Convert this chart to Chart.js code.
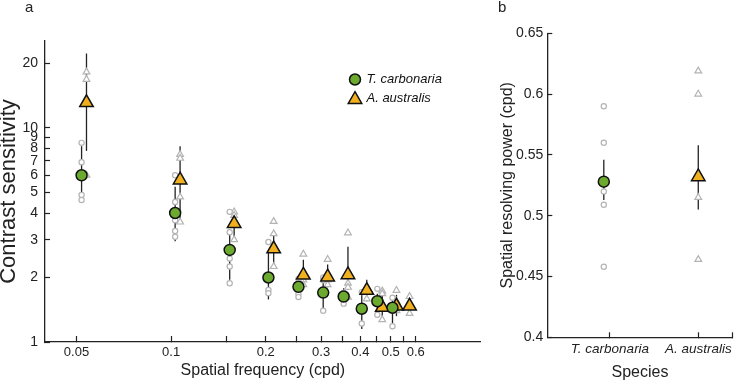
<!DOCTYPE html>
<html><head><meta charset="utf-8">
<script src="https://cdn.jsdelivr.net/npm/chart.js@4.4.0/dist/chart.umd.min.js"></script>
<style>
html,body{margin:0;padding:0;background:#fff;}
#wrap{position:relative;width:742px;height:382px;overflow:hidden;font-family:"Liberation Sans",Arial,sans-serif;}
#ca{position:absolute;left:0;top:0;width:490px;height:382px;}
#cb{position:absolute;left:490px;top:0;width:252px;height:382px;}
.plab{position:absolute;font-size:15px;line-height:1;color:#222;}
</style></head><body>
<div id="wrap">
<canvas id="ca" width="490" height="382"></canvas>
<canvas id="cb" width="252" height="382"></canvas>
<div class="plab" style="left:25px;top:-1px">a</div>
<div class="plab" style="left:498px;top:-1px">b</div>
</div>
<script>
// ---------- data ----------
const speciesNames = ['T. carbonaria', 'A. australis'];

// Panel a: contrast sensitivity vs spatial frequency (cpd)
const tcFreq = [0.0519, 0.1030, 0.1536, 0.2040, 0.2542, 0.3047, 0.3540, 0.4042, 0.4530, 0.5062];
const tcCS   = [6.0, 4.0, 2.69, 2.0, 1.81, 1.70, 1.63, 1.43, 1.55, 1.445];
const tcLo   = [5.0, 2.95, 1.95, 1.58, 1.65, 1.42, 1.50, 1.15, 1.45, 1.22];
const tcHi   = [8.2, 5.3, 3.3, 2.6, 1.97, 1.95, 1.78, 1.68, 1.68, 1.60];
const tcInd  = [[8.5, 6.9, 6.0, 4.85, 4.6], [6.0, 4.5, 3.7, 3.3, 3.1], [4.05, 3.25, 2.45, 2.25, 1.88],
                [2.93, 2.0, 1.75, 1.69], [1.97, 1.8, 1.68, 1.62], [2.0, 1.94, 1.7, 1.40],
                [1.7, 1.63, 1.51], [1.71, 1.43, 1.22], [1.77, 1.55, 1.34], [1.61, 1.45, 1.185]];

const aaFreq = [0.0538, 0.1068, 0.1587, 0.2120, 0.2635, 0.3148, 0.3653, 0.4193, 0.4697, 0.5212, 0.5737];
const aaCS   = [13.1, 5.7, 3.57, 2.72, 2.05, 2.01, 2.06, 1.74, 1.45, 1.47, 1.47];
const aaLo   = [7.8, 3.75, 3.05, 2.2, 1.85, 1.8, 1.75, 1.55, 1.3, 1.32, 1.35];
const aaHi   = [22.2, 8.2, 4.1, 3.22, 2.42, 2.3, 2.78, 1.95, 1.65, 1.66, 1.63];
const aaInd  = [[18.2, 16.8, 6.0], [7.5, 7.2, 4.75, 3.63], [4.05, 3.9, 3.0], [3.65, 3.2, 2.25],
                [2.57, 1.95, 1.85], [2.43, 1.95, 1.85], [3.23, 1.88, 1.8, 1.62], [1.8, 1.72, 1.59],
                [1.73, 1.68, 1.27], [1.74, 1.55, 1.40], [1.63, 1.5, 1.36]];

const xTicksA  = [0.05, 0.1, 0.15, 0.2, 0.25, 0.3, 0.35, 0.4, 0.45, 0.5, 0.55, 0.6];
const xLabelsA = ['0.05', '0.1', '', '0.2', '', '0.3', '', '0.4', '', '0.5', '', '0.6'];
const yTicksA  = [1, 2, 3, 4, 5, 6, 7, 8, 9, 10, 20];
const yLabelsA = ['1', '2', '3', '4', '5', '6', '7', '8', '9', '10', '20'];

// Panel b: spatial resolving power (cpd) per species
const resX    = [0.93, 2.0];
const resMean = [0.528, 0.532];
const resLo   = [0.513, 0.505];
const resHi   = [0.546, 0.558];
const resInd  = [[0.590, 0.560, 0.520, 0.509, 0.458], [0.619, 0.600, 0.515, 0.464]];
const xTicksB  = [1, 2, 2.39];
const xLabelsB = ['T. carbonaria', 'A. australis', ''];
const yTicksB  = [0.4, 0.45, 0.5, 0.55, 0.6, 0.65];
const yLabelsB = ['0.4', '0.45', '0.5', '0.55', '0.6', '0.65'];

// ---------- styles ----------
const FONT = '"Liberation Sans", Arial, sans-serif';
const INK = '#222';
const GREEN = '#6ca92f';
const ORANGE = '#f0b01f';
const GREY = '#b4b4b4';

function pts(xs, ys) { return xs.map((x, i) => ({x: x, y: ys[i]})); }
function indPts(xs, groups) {
  const out = [];
  groups.forEach((g, i) => g.forEach(v => out.push({x: xs[i], y: v})));
  return out;
}

const errorBars = {
  id: 'errorBars',
  beforeDatasetsDraw(chart) {
    const {ctx, scales} = chart;
    ctx.save();
    ctx.strokeStyle = INK;
    ctx.lineWidth = 1.3;
    chart.data.datasets.forEach(ds => {
      if (!ds.errLo) return;
      ds.data.forEach((p, i) => {
        const px = scales.x.getPixelForValue(p.x);
        ctx.beginPath();
        ctx.moveTo(px, scales.y.getPixelForValue(ds.errLo[i]));
        ctx.lineTo(px, scales.y.getPixelForValue(ds.errHi[i]));
        ctx.stroke();
      });
    });
    ctx.restore();
  }
};

const speciesKey = {
  id: 'speciesKey',
  afterDatasetsDraw(chart, args, opts) {
    if (!opts || !opts.show) return;
    const ctx = chart.ctx;
    ctx.save();
    let k = 0;
    chart.data.datasets.forEach(ds => {
      if (!ds.inKey) return;
      const cy = opts.y + k * opts.gap;
      ctx.fillStyle = ds.pointBackgroundColor;
      ctx.strokeStyle = ds.pointBorderColor;
      ctx.lineWidth = ds.pointBorderWidth;
      Chart.helpers.drawPoint(ctx, {pointStyle: ds.pointStyle, radius: ds.pointRadius, borderWidth: ds.pointBorderWidth, rotation: 0}, opts.x, cy + (ds.pointStyle === 'triangle' ? 1.5 : 0));
      ctx.fillStyle = '#111';
      ctx.font = 'italic 13px ' + FONT;
      ctx.textBaseline = 'middle';
      ctx.textAlign = 'left';
      ctx.fillText(ds.label, opts.x + opts.dx, cy);
      k++;
    });
    ctx.restore();
  }
};

function meanDs(label, data, style, color, r, lo, hi) {
  return {label: label, data: data, pointStyle: style, pointRadius: r, pointHoverRadius: r,
    pointBackgroundColor: color, pointBorderColor: '#111', pointBorderWidth: 1.5,
    showLine: false, errLo: lo, errHi: hi, inKey: true};
}
function indDs(data, style, r) {
  return {label: '', data: data, pointStyle: style, pointRadius: r, pointHoverRadius: r,
    pointBackgroundColor: '#fff', pointBorderColor: GREY, pointBorderWidth: 1.2, showLine: false};
}
function axisCommon(extra) {
  return Object.assign({
    grid: {drawOnChartArea: false, drawTicks: true, color: INK, tickColor: INK, tickWidth: 1.2},
    border: {display: true, color: INK, width: 1.3}
  }, extra);
}

// ---------- panel a ----------
new Chart(document.getElementById('ca'), {
  type: 'scatter',
  data: {datasets: [
    meanDs(speciesNames[0], pts(tcFreq, tcCS), 'circle', GREEN, 5.5, tcLo, tcHi),
    meanDs(speciesNames[1], pts(aaFreq, aaCS), 'triangle', ORANGE, 7.8, aaLo, aaHi),
    indDs(indPts(tcFreq, tcInd), 'circle', 2.6),
    indDs(indPts(aaFreq, aaInd), 'triangle', 3.9)
  ]},
  options: {
    responsive: false, animation: false, events: [],
    layout: {padding: {left: 0, top: 41, right: 5, bottom: 0}},
    plugins: {legend: {display: false}, tooltip: {enabled: false},
      speciesKey: {show: true, x: 355, y: 79.5, gap: 18.5, dx: 11.5}},
    scales: {
      x: axisCommon({
        type: 'logarithmic', min: 0.0397, max: 0.966,
        afterBuildTicks: s => { s.ticks = xTicksA.map(v => ({value: v})); },
        afterFit: s => { s.height = 40; },
        ticks: {callback: (v, i) => xLabelsA[i], autoSkip: false, maxRotation: 0, minRotation: 0,
                padding: 9, color: INK, font: {family: FONT, size: 13}},
        grid: {drawOnChartArea: false, drawTicks: true, tickLength: -6, color: INK, tickColor: INK, tickWidth: 1.2},
        title: {display: true, text: 'Spatial frequency (cpd)', color: INK,
                font: {family: FONT, size: 16}, padding: {top: 0, bottom: 1.4}}
      }),
      y: axisCommon({
        type: 'logarithmic', min: 1, max: 25.4,
        afterBuildTicks: s => { s.ticks = yTicksA.map(v => ({value: v})); },
        afterFit: s => { s.width = 45; },
        ticks: {callback: (v, i) => yLabelsA[i], autoSkip: false, padding: 12, color: INK,
                font: {family: FONT, size: 14}},
        grid: {drawOnChartArea: false, drawTicks: true, tickLength: -5, color: INK, tickColor: INK, tickWidth: 1.2},
        title: {display: true, text: 'Contrast sensitivity', color: INK,
                font: {family: FONT, size: 22, lineHeight: 0.8}, padding: {top: 0, bottom: 0}}
      })
    }
  },
  plugins: [errorBars, speciesKey]
});

// ---------- panel b ----------
new Chart(document.getElementById('cb'), {
  type: 'scatter',
  data: {datasets: [
    meanDs(speciesNames[0], [{x: resX[0], y: resMean[0]}], 'circle', GREEN, 5.5, [resLo[0]], [resHi[0]]),
    meanDs(speciesNames[1], [{x: resX[1], y: resMean[1]}], 'triangle', ORANGE, 7.8, [resLo[1]], [resHi[1]]),
    indDs(indPts([resX[0]], [resInd[0]]), 'circle', 2.6),
    indDs(indPts([resX[1]], [resInd[1]]), 'triangle', 3.9)
  ]},
  options: {
    responsive: false, animation: false, events: [],
    layout: {padding: {left: 0, top: 33.3, right: 2, bottom: 0}},
    plugins: {legend: {display: false}, tooltip: {enabled: false}, speciesKey: {show: false}},
    scales: {
      x: axisCommon({
        type: 'linear', min: 0.29, max: 2.39,
        afterBuildTicks: s => { s.ticks = xTicksB.map(v => ({value: v})); },
        afterFit: s => { s.height = 44.7; },
        ticks: {callback: (v, i) => xLabelsB[i], autoSkip: false, maxRotation: 0, minRotation: 0,
                padding: 9, color: INK, font: {family: FONT, size: 13.5, style: 'italic'}},
        grid: {drawOnChartArea: false, drawTicks: true, tickLength: -5, color: INK, tickColor: INK, tickWidth: 1.2},
        title: {display: true, text: 'Species', color: INK,
                font: {family: FONT, size: 16}, padding: {top: 0, bottom: 0}}
      }),
      y: axisCommon({
        type: 'linear', min: 0.4, max: 0.65,
        afterBuildTicks: s => { s.ticks = yTicksB.map(v => ({value: v})); },
        afterFit: s => { s.width = 57.3; },
        ticks: {callback: (v, i) => yLabelsB[i], autoSkip: false, padding: 9, color: INK,
                font: {family: FONT, size: 14}},
        grid: {drawOnChartArea: false, drawTicks: true, tickLength: -5, color: INK, tickColor: INK, tickWidth: 1.2},
        title: {display: true, text: 'Spatial resolving power (cpd)', color: INK,
                font: {family: FONT, size: 16}, padding: {top: 8, bottom: 0}}
      })
    }
  },
  plugins: [errorBars]
});
</script>
</body></html>
